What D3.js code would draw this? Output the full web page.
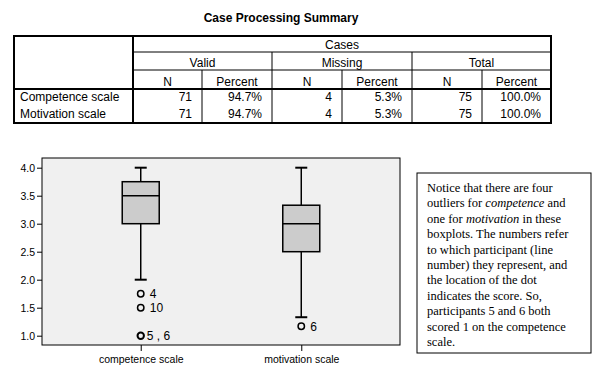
<!DOCTYPE html>
<html><head><meta charset="utf-8">
<script src="https://cdn.jsdelivr.net/npm/d3@7"></script>
<style>body{margin:0;background:#fff;} svg{display:block;}</style>
</head><body>
<svg id="c" width="598" height="382"></svg>
<script>
// ---- Data ----
const tableTitle = "Case Processing Summary";
const tableRowLabels = ["Competence scale", "Motivation scale"];
const validN = [71, 71];
const validPct = ["94.7%", "94.7%"];
const missingN = [4, 4];
const missingPct = ["5.3%", "5.3%"];
const totalN = [75, 75];
const totalPct = ["100.0%", "100.0%"];
const groupHeaders = ["Valid", "Missing", "Total"];
const subHeaders = ["N", "Percent", "N", "Percent", "N", "Percent"];

const categories = ["competence scale", "motivation scale"];
const whiskerLow = [2.0, 1.33];
const q1 = [3.0, 2.5];
const median = [3.5, 3.0];
const q3 = [3.75, 3.33];
const whiskerHigh = [4.0, 4.0];
const outlierCat = ["competence scale", "competence scale", "competence scale", "motivation scale"];
const outlierVal = [1.75, 1.5, 1.0, 1.17];
const outlierLabel = ["4", "10", "5\u00a0,\u00a06", "6"];
const yTicks = [1.0, 1.5, 2.0, 2.5, 3.0, 3.5, 4.0];

const noteLines = [
  [["Notice that there are four", false]],
  [["outliers for ", false], ["competence", true], [" and", false]],
  [["one for ", false], ["motivation", true], [" in these", false]],
  [["boxplots. The numbers refer", false]],
  [["to which participant (line", false]],
  [["number) they represent, and", false]],
  [["the location of the dot", false]],
  [["indicates the score. So,", false]],
  [["participants 5 and 6 both", false]],
  [["scored 1 on the competence", false]],
  [["scale.", false]]
];

const svg = d3.select("#c");
const sans = "Liberation Sans, Arial, sans-serif";

// ---- Table ----
svg.append("text").attr("x", 281).attr("y", 22).attr("text-anchor", "middle")
  .attr("font-family", sans).attr("font-size", 12).attr("font-weight", "bold").text(tableTitle);

const colX = [14, 133, 202, 272, 342, 412, 482, 551];
const rowY = [36, 52, 70, 89, 123];
const t = svg.append("g");
const line = (x1, y1, x2, y2, w) => t.append("line").attr("x1", x1).attr("y1", y1).attr("x2", x2).attr("y2", y2)
  .attr("stroke", "#000").attr("stroke-width", w);
line(colX[1], rowY[1], colX[7], rowY[1], 1);
line(colX[1], rowY[2], colX[7], rowY[2], 1);
line(colX[0], rowY[3], colX[7], rowY[3], 2);
[3, 5].forEach(i => line(colX[i], rowY[1], colX[i], rowY[4], 1));
[2, 4, 6].forEach(i => line(colX[i], rowY[2], colX[i], rowY[4], 1));
line(colX[1], rowY[0], colX[1], rowY[4], 2);
t.append("rect").attr("x", colX[0]).attr("y", rowY[0]).attr("width", colX[7] - colX[0]).attr("height", rowY[4] - rowY[0])
  .attr("fill", "none").attr("stroke", "#000").attr("stroke-width", 2);

const txt = (x, y, s, anchor) => t.append("text").attr("x", x).attr("y", y).attr("text-anchor", anchor || "middle")
  .attr("font-family", sans).attr("font-size", 12).attr("fill", "#000").text(s);
txt((colX[1] + colX[7]) / 2, 49, "Cases");
groupHeaders.forEach((g, i) => txt((colX[1 + 2 * i] + colX[3 + 2 * i]) / 2, 67, g));
subHeaders.forEach((s, i) => txt((colX[1 + i] + colX[2 + i]) / 2, 86, s));
const rowBase = [101, 118];
tableRowLabels.forEach((r, k) => {
  txt(20, rowBase[k], r, "start");
  const vals = [validN[k], validPct[k], missingN[k], missingPct[k], totalN[k], totalPct[k]];
  vals.forEach((v, i) => txt(colX[2 + i] - 10, rowBase[k], v, "end"));
});

// ---- Boxplot ----
const pl = {left: 42, right: 400, top: 158, bottom: 345};
const y = d3.scaleLinear().domain([1, 4]).range([335.7, 167.7]);
const x = d3.scalePoint().domain(categories).range([pl.left, pl.right]).padding(0.615);

const g = svg.append("g");
g.append("rect").attr("x", pl.left).attr("y", pl.top).attr("width", pl.right - pl.left).attr("height", pl.bottom - pl.top)
  .attr("fill", "#f0f0f0").attr("stroke", "#000").attr("stroke-width", 1);

const yAxis = d3.axisLeft(y).tickValues(yTicks).tickFormat(d3.format(".1f")).tickSize(5).tickSizeOuter(0).tickPadding(2);
const ya = g.append("g").attr("transform", `translate(${pl.left},0)`).call(yAxis);
ya.select(".domain").remove();
ya.selectAll("text").attr("font-family", sans).attr("font-size", 10.5).attr("fill", "#000");

const xAxis = d3.axisBottom(x).tickSize(6).tickSizeOuter(0).tickPadding(5);
const xa = g.append("g").attr("transform", `translate(0,${pl.bottom})`).call(xAxis);
xa.select(".domain").remove();
xa.selectAll("text").attr("font-family", sans).attr("font-size", 10.5).attr("fill", "#000");

const boxW = 37, capW = 12;
categories.forEach((c, i) => {
  const cx = x(c);
  g.append("line").attr("x1", cx).attr("x2", cx).attr("y1", y(whiskerHigh[i])).attr("y2", y(q3[i])).attr("stroke", "#000").attr("stroke-width", 1.5);
  g.append("line").attr("x1", cx).attr("x2", cx).attr("y1", y(q1[i])).attr("y2", y(whiskerLow[i])).attr("stroke", "#000").attr("stroke-width", 1.5);
  [whiskerHigh[i], whiskerLow[i]].forEach(v => g.append("line").attr("x1", cx - capW / 2).attr("x2", cx + capW / 2)
    .attr("y1", y(v)).attr("y2", y(v)).attr("stroke", "#000").attr("stroke-width", 2));
  g.append("rect").attr("x", cx - boxW / 2).attr("y", y(q3[i])).attr("width", boxW).attr("height", y(q1[i]) - y(q3[i]))
    .attr("fill", "#cccccc").attr("stroke", "#000").attr("stroke-width", 1.5);
  g.append("line").attr("x1", cx - boxW / 2).attr("x2", cx + boxW / 2).attr("y1", y(median[i])).attr("y2", y(median[i]))
    .attr("stroke", "#000").attr("stroke-width", 1.5);
});
outlierVal.forEach((v, i) => {
  const cx = x(outlierCat[i]);
  g.append("circle").attr("cx", cx).attr("cy", y(v)).attr("r", 3.2).attr("fill", "none").attr("stroke", "#000")
    .attr("stroke-width", v === 1.0 ? 2 : 1.5);
  g.append("text").attr("x", cx + (v === 1.0 ? 6 : 9)).attr("y", y(v) + 4.5).attr("font-family", sans).attr("font-size", 12)
    .attr("fill", "#000").text(outlierLabel[i]);
});

// ---- Note box ----
svg.append("rect").attr("x", 417).attr("y", 173).attr("width", 174).attr("height", 180).attr("fill", "#fff")
  .attr("stroke", "#000").attr("stroke-width", 1);
noteLines.forEach((ln, i) => {
  const te = svg.append("text").attr("x", 427).attr("y", 192 + i * 15.4).attr("font-family", "Liberation Serif, Times New Roman, serif")
    .attr("font-size", 12.5).attr("fill", "#000");
  ln.forEach(([s, it]) => te.append("tspan").attr("font-style", it ? "italic" : "normal").text(s));
});
</script>
</body></html>
